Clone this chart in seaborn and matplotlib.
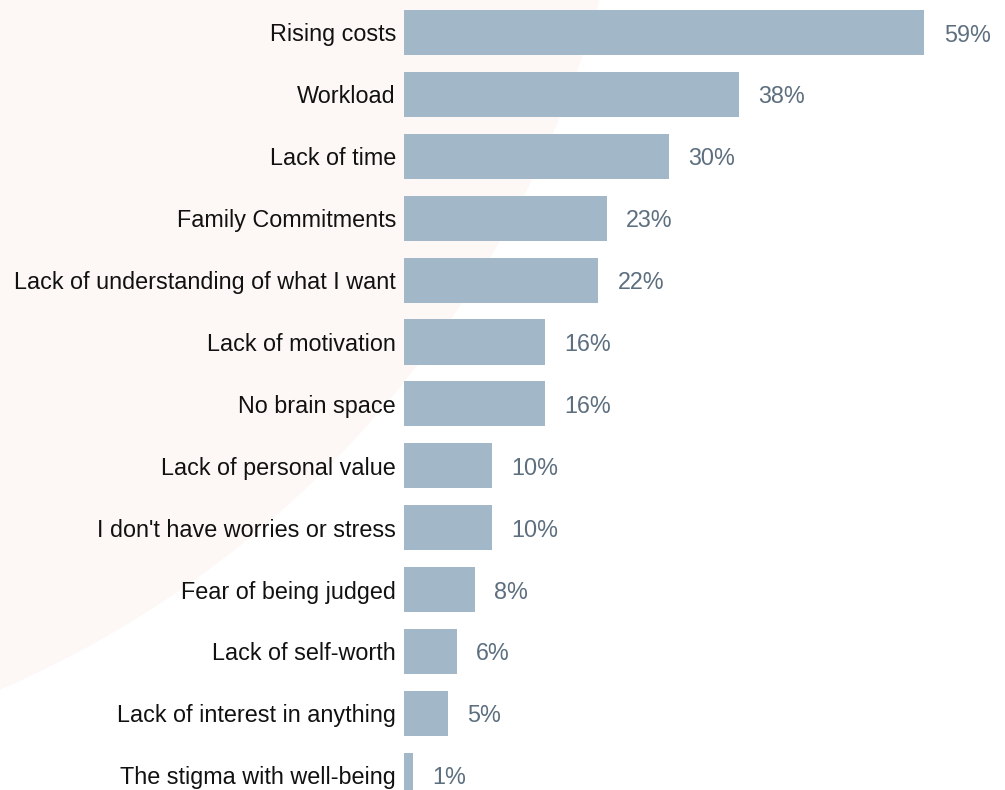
import matplotlib
matplotlib.use("Agg")
import matplotlib.pyplot as plt
from matplotlib.patches import Circle
import seaborn as sns
import pandas as pd

categories = [
    "Rising costs",
    "Workload",
    "Lack of time",
    "Family Commitments",
    "Lack of understanding of what I want",
    "Lack of motivation",
    "No brain space",
    "Lack of personal value",
    "I don't have worries or stress",
    "Fear of being judged",
    "Lack of self-worth",
    "Lack of interest in anything",
    "The stigma with well-being",
]
values = [59, 38, 30, 23, 22, 16, 16, 10, 10, 8, 6, 5, 1]
value_labels = [f"{v}%" for v in values]

BAR_COLOR = "#a2b8c8"
LABEL_COLOR = "#5d6f7f"
TEXT_COLOR = "#111111"
BG_ARC = "#fdf8f6"

sns.set_theme(style="white")
plt.rcParams["font.family"] = ["Liberation Sans", "DejaVu Sans"]

W, H = 1005, 790
fig = plt.figure(figsize=(W / 100, H / 100), dpi=100)
fig.patch.set_facecolor("white")

# background layer with a soft decorative arc (pixel coordinates)
bg = fig.add_axes([0, 0, 1, 1], zorder=-1)
bg.set_axis_off()
bg.add_patch(Circle((-418, H + 279), 1055, transform=None,
                    facecolor=BG_ARC, edgecolor="none"))

left_px = 404
ax = fig.add_axes([left_px / W, 0, 1 - left_px / W, 1], zorder=1)
ax.patch.set_alpha(0)

df = pd.DataFrame({"reason": categories, "share": values})
sns.barplot(data=df, x="share", y="reason", orient="h", color=BAR_COLOR,
            saturation=1, width=0.727, linewidth=0, ax=ax)

px_per_unit = 8.82
ax.set_xlim(0, (W - left_px) / px_per_unit)
pitch = 61.9
first_center = 32.5
ax.set_ylim((H - first_center) / pitch, -first_center / pitch)

texts = ax.bar_label(ax.containers[0], labels=value_labels, padding=14,
                     color=LABEL_COLOR, fontsize=16.8)
for t in texts:
    t.set_verticalalignment("center_baseline")

for s in ax.spines.values():
    s.set_visible(False)
ax.set_xticks([])
ax.set_xlabel("")
ax.set_ylabel("")
ax.tick_params(axis="y", length=0, pad=5.8, labelsize=16.8, labelcolor=TEXT_COLOR)

fig.savefig("out.png", dpi=100)
